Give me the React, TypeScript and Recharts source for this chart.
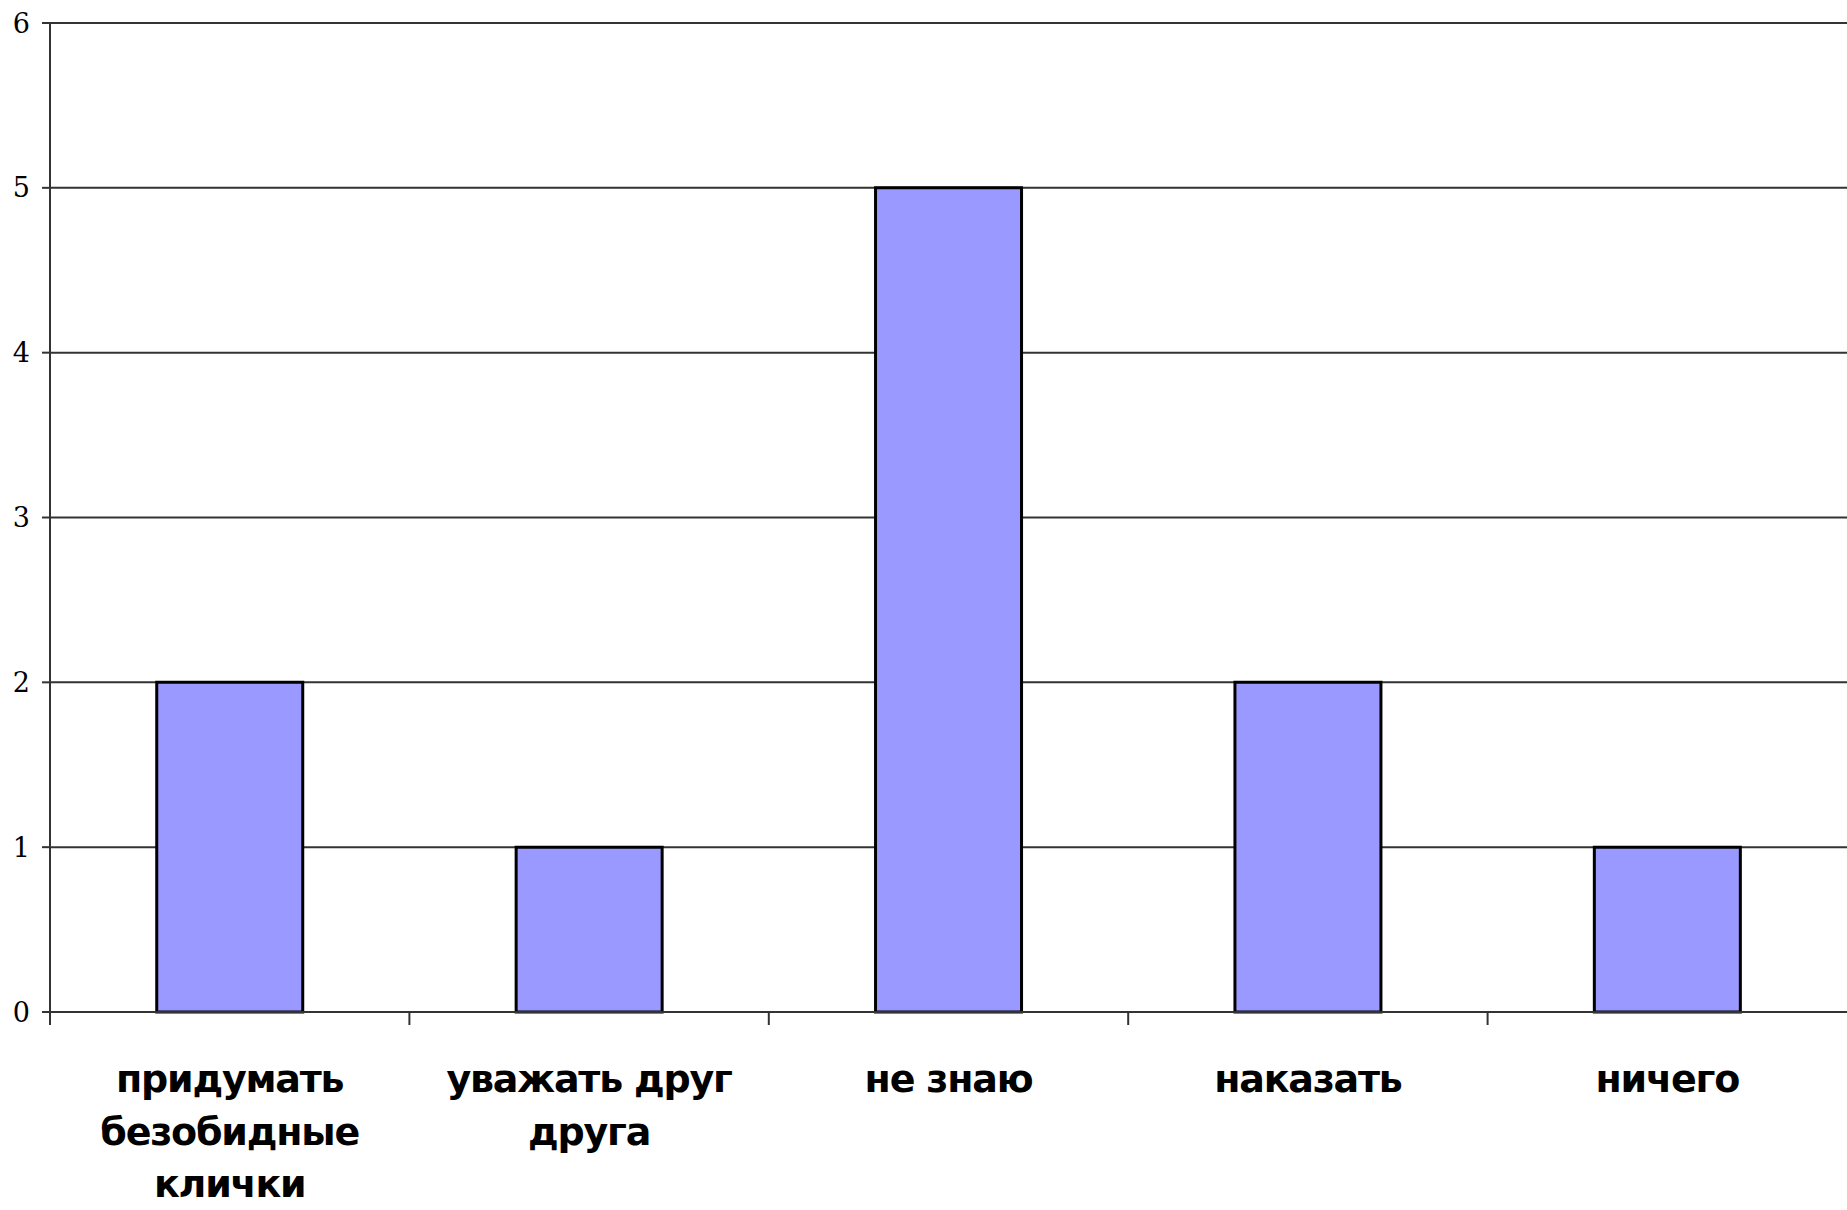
import React from "react";
import { BarChart, Bar, XAxis, YAxis, CartesianGrid } from "recharts";

const categories = [
  "придумать\nбезобидные\nклички",
  "уважать друг\nдруга",
  "не знаю",
  "наказать",
  "ничего",
];
const values = [2, 1, 5, 2, 1];
const yTicks = [0, 1, 2, 3, 4, 5, 6];

const data = categories.map((c, i) => ({ name: c, value: values[i] }));

const W = 1847;
const H = 1210;
const LEFT = 50;
const TOP = 23;
const BOTTOM = 198;
const HALF_BAND = (W - LEFT) / categories.length / 2;

const XTick = (props: any) => {
  const { x, y, payload } = props;
  const lines = String(payload.value).split("\n");
  return (
    <g>
      <line x1={x - HALF_BAND} x2={x - HALF_BAND} y1={y - 8} y2={y + 5} stroke="#333" strokeWidth={2} />
      <text
        x={x}
        y={y + 72}
        textAnchor="middle"
        fontFamily="'DejaVu Sans', sans-serif"
        fontWeight="bold"
        fontSize={38}
        letterSpacing={-1.2}
        fill="#000"
      >
        {lines.map((l, i) => (
          <tspan key={i} x={x} dy={i === 0 ? 0 : 52.5}>
            {l}
          </tspan>
        ))}
      </text>
    </g>
  );
};

export default function App() {
  return (
    <div style={{ position: "absolute", left: 0, top: 0, background: "#fff" }}>
      <BarChart
        width={W}
        height={H}
        data={data}
        margin={{ top: TOP, right: 0, bottom: 0, left: 0 }}
        barCategoryGap="29.7%"
      >
        <CartesianGrid vertical={false} horizontal={true} stroke="#333" strokeWidth={2} />
        <XAxis
          dataKey="name"
          interval={0}
          axisLine={{ stroke: "#333", strokeWidth: 2 }}
          tickLine={false}
          tick={<XTick />}
          height={BOTTOM}
        />
        <YAxis
          width={LEFT}
          domain={[0, 6]}
          ticks={yTicks}
          interval={0}
          axisLine={{ stroke: "#333", strokeWidth: 2 }}
          tickLine={{ stroke: "#333", strokeWidth: 2 }}
          tickSize={8}
          tickMargin={12}
          tick={{ fill: "#000", fontFamily: "'DejaVu Serif', serif", fontSize: 27 }}
        />
        <Bar dataKey="value" fill="#9999FF" stroke="#000" strokeWidth={3} isAnimationActive={false} />
      </BarChart>
    </div>
  );
}
